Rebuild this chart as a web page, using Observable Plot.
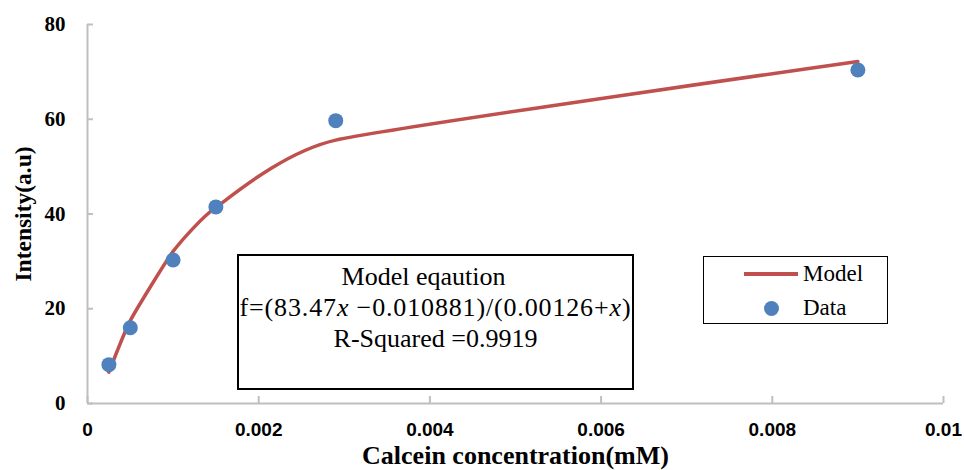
<!DOCTYPE html>
<html>
<head>
<meta charset="utf-8">
<script src="https://cdn.jsdelivr.net/npm/d3@7"></script>
<script src="https://cdn.jsdelivr.net/npm/@observablehq/plot@0.6"></script>
<style>
  body { margin: 0; background: #fff; }
  #wrap { position: relative; width: 964px; height: 470px; background: #fff; }
  .serif { font-family: "Liberation Serif", "Times New Roman", serif; color: #000; }
  #eqbox {
    position: absolute; left: 237px; top: 254px; width: 393px; height: 127px;
    border: 2px solid #000; box-sizing: content-box;
    font-size: 26px; text-align: center; line-height: 31px; padding-top: 5px;
    white-space: nowrap;
  }
  #eqbox .title { display: inline-block; padding-right: 24px; }
  #eqbox .formula { letter-spacing: 0.85px; }
  #legend {
    position: absolute; left: 703px; top: 256px; width: 183px; height: 66px;
    border: 1.5px solid #000; font-size: 23px;
  }
  .lg-row { position: absolute; left: 0; height: 30px; display: flex; align-items: center; }
  .lg-key { width: 54px; margin-left: 40px; margin-right: 5px; display: flex; justify-content: center; align-items: center; }
</style>
</head>
<body>
<div id="wrap"></div>
<script>
// Calcein concentration (mM) and measured fluorescence intensity (a.u.)
const concentration = [0.00025, 0.0005, 0.001, 0.0015, 0.0029, 0.009];
const intensity = [8.2, 16.0, 30.3, 41.5, 59.7, 70.4];
// Fitted model values at the same concentrations
const modelIntensity = [6.6, 17.5, 32.1, 41.4, 55.6, 72.2];

const xTicks = [0, 0.002, 0.004, 0.006, 0.008, 0.01];
const xTickLabels = ["0", "0.002", "0.004", "0.006", "0.008", "0.01"];
const yTicks = [0, 20, 40, 60, 80];

const modelColor = "#c0504d";
const dataColor = "#4f81bd";
const axisColor = "#bfbfbf";

const points = concentration.map((c, i) => ({c, v: intensity[i]}));
const model = concentration.map((c, i) => ({c, v: modelIntensity[i]}));

const serif = "Liberation Serif, Times New Roman, serif";

const chart = Plot.plot({
  width: 964,
  height: 470,
  marginLeft: 87,
  marginRight: 21,
  marginTop: 24,
  marginBottom: 67,
  style: {background: "#fff", color: "#000"},
  x: {domain: [0, 0.01]},
  y: {domain: [0, 80]},
  marks: [
    Plot.ruleY([0], {stroke: axisColor, strokeWidth: 2}),
    Plot.ruleX([0], {stroke: axisColor, strokeWidth: 2}),
    // inward tick marks
    Plot.axisX({ticks: xTicks, tickSize: -7, text: null, label: null, stroke: axisColor, strokeWidth: 2}),
    Plot.axisY({ticks: yTicks, tickSize: -6, text: null, label: null, stroke: axisColor, strokeWidth: 2}),
    // tick labels
    Plot.axisX({
      ticks: xTicks, tickSize: 0, tickPadding: 19,
      tickFormat: (d) => xTickLabels[xTicks.indexOf(d)],
      fontFamily: "Liberation Sans, Arial, sans-serif", fontSize: 19, fontWeight: "bold",
      label: null
    }),
    Plot.axisY({
      ticks: yTicks, tickSize: 0, tickPadding: 22,
      fontFamily: serif, fontSize: 21, fontWeight: "bold",
      label: null
    }),
    Plot.text(["Calcein concentration(mM)"], {
      frameAnchor: "bottom", dy: 60, text: (d) => d,
      fontFamily: serif, fontSize: 26, fontWeight: "bold", fill: "#000"
    }),
    Plot.text(["Intensity(a.u)"], {
      frameAnchor: "left", textAnchor: "middle", dx: -64, rotate: -90, text: (d) => d,
      fontFamily: serif, fontSize: 23.5, fontWeight: "bold", fill: "#000"
    }),
    // smoothed model line through the fitted values
    Plot.line(model, {x: "c", y: "v", curve: d3.curveCardinal.tension(0.5), stroke: modelColor, strokeWidth: 3.5}),
    Plot.dot(points, {x: "c", y: "v", r: 7.5, fill: dataColor, stroke: "none"})
  ]
});

const wrap = document.getElementById("wrap");
wrap.appendChild(chart);

// Equation box
const eq = document.createElement("div");
eq.id = "eqbox";
eq.className = "serif";
eq.innerHTML = '<span class="title">Model eqaution</span><br>' +
  '<span class="formula">f=(83.47<i>x</i> \u22120.010881)/(0.00126+<i>x</i>)</span><br>' +
  'R-Squared =0.9919';
wrap.appendChild(eq);

// Legend
const lg = document.createElement("div");
lg.id = "legend";
lg.className = "serif";
lg.innerHTML = `
  <div class="lg-row" style="top:2px"><div class="lg-key"><div style="width:54px;height:3.5px;background:${modelColor}"></div></div>Model</div>
  <div class="lg-row" style="top:36px"><div class="lg-key"><div style="width:15px;height:15px;border-radius:50%;background:${dataColor}"></div></div>Data</div>`;
wrap.appendChild(lg);
</script>
</body>
</html>
